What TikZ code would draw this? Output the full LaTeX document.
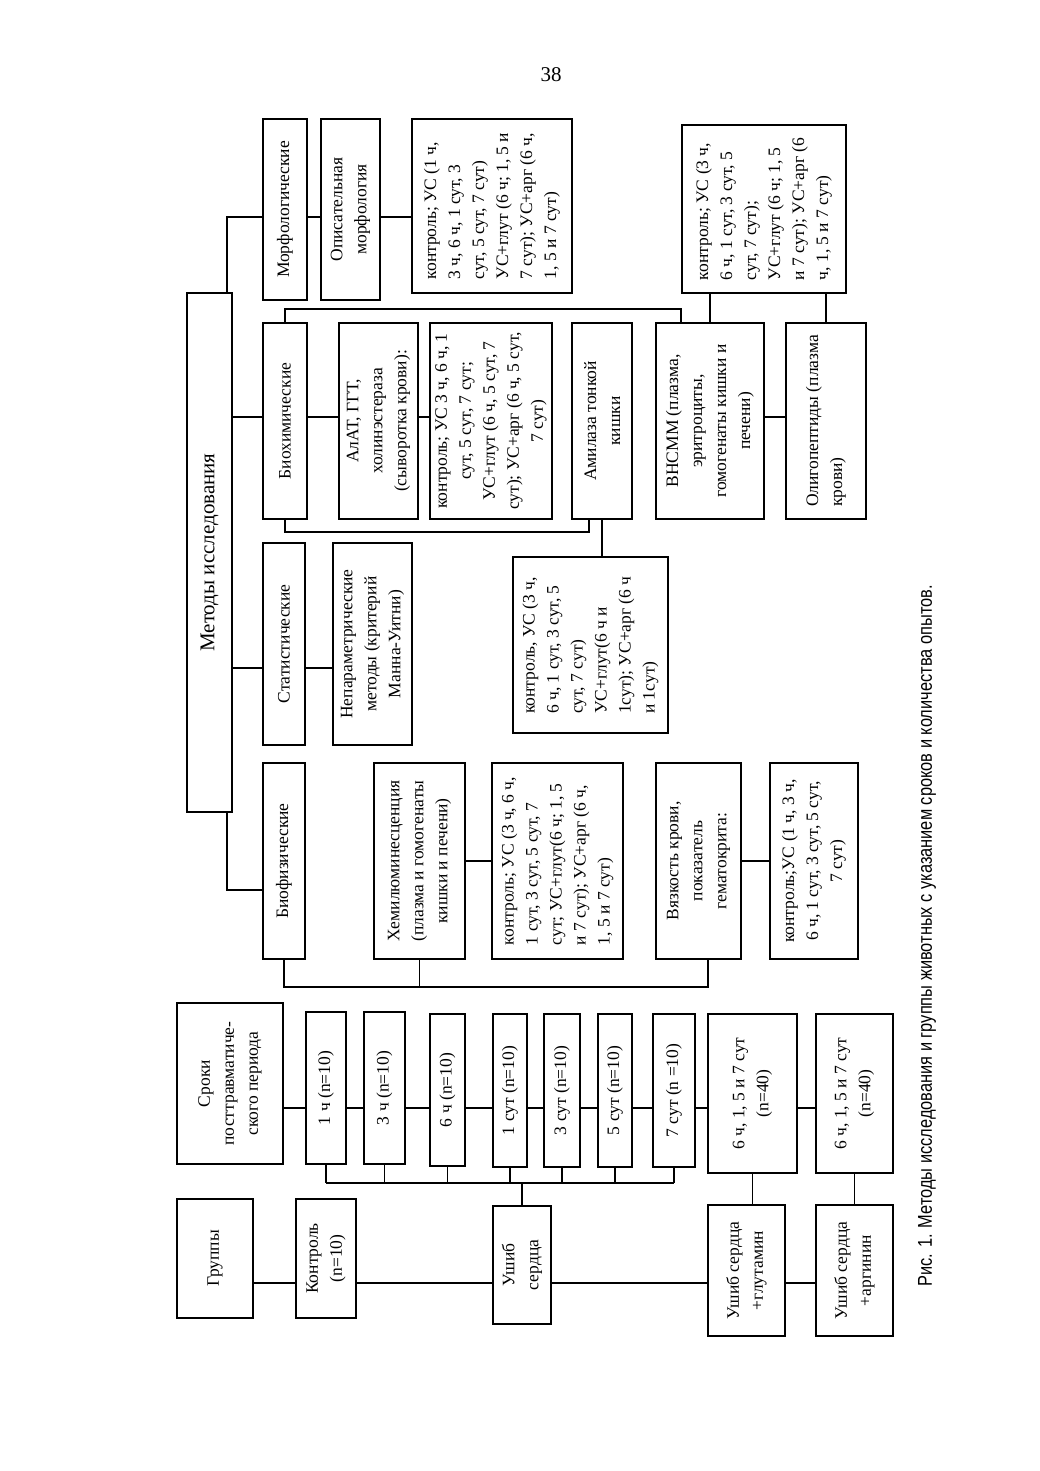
\documentclass[tikz,border=0pt]{standalone}
\usepackage{fontspec}
\setmainfont{Liberation Serif}
\newfontfamily\capfont{Liberation Sans}
\usetikzlibrary{calc}

\begin{document}
\begin{tikzpicture}[x=1pt,y=-1pt,line width=1.5pt,font=\fontsize{17.5}{24}\selectfont,
  box/.style={draw,line width=1.9pt,rotate=90,align=center,inner sep=3pt},
  lbox/.style={box,align=left}]
  \useasboundingbox (0,0) rectangle (1040,1471);
  \node[font=\fontsize{21}{24}\selectfont] (pnum) at (551,75) {38};
  % groups and periods
  \node[box,minimum width=161,minimum height=106] (sroki) at (230,1083.5) {Сроки\\посттравматиче-\\ского периода};
  \node[box,minimum width=152,minimum height=40] (t1) at (326,1088) {1 ч (n=10)};
  \node[box,minimum width=152,minimum height=41] (t3) at (384.5,1088) {3 ч (n=10)};
  \node[box,minimum width=152,minimum height=35] (t6) at (447.5,1090) {6 ч (n=10)};
  \node[box,minimum width=153,minimum height=34] (s1) at (510,1090.5) {1 сут (n=10)};
  \node[box,minimum width=153,minimum height=36] (s3) at (562,1090.5) {3 сут (n=10)};
  \node[box,minimum width=153,minimum height=34] (s5) at (615,1090.5) {5 сут (n=10)};
  \node[box,minimum width=153,minimum height=42] (s7) at (674,1090.5) {7 сут (n =10)};
  \node[box,minimum width=159,minimum height=89] (tg) at (752.5,1093.5) {6 ч, 1, 5 и 7 сут\\(n=40)};
  \node[box,minimum width=159,minimum height=77] (ta) at (854.5,1093.5) {6 ч, 1, 5 и 7 сут\\(n=40)};
  \node[box,minimum width=119,minimum height=76] (gruppy) at (215,1258.5) {Группы};
  \node[box,minimum width=119,minimum height=60] (kontrol) at (326,1258.5) {Контроль\\(n=10)};
  \node[box,minimum width=118,minimum height=58] (ushib) at (522,1265) {Ушиб\\сердца};
  \node[box,minimum width=131,minimum height=77] (ushibg) at (746.5,1270.5) {Ушиб сердца\\+глутамин};
  \node[box,minimum width=131,minimum height=77] (ushiba) at (854.5,1270.5) {Ушиб сердца\\+аргинин};

  \coordinate (ch) at (0,1108);
  \foreach \a/\b in {sroki/t1,t1/t3,t3/t6,t6/s1,s1/s3,s3/s5,s5/s7,s7/tg,tg/ta}
    \draw (\a.south |- ch) -- (\b.north |- ch);
  \coordinate (bus) at (0,1183);
  \foreach \n in {t1,t3,t6,s1,s3,s5,s7}
    \draw (\n.west) -- (\n.west |- bus);
  \draw (t1.west |- bus) -- (s7.west |- bus);
  \draw (ushib.east |- bus) -- (ushib.east);
  \coordinate (gr) at (0,1283);
  \foreach \a/\b in {gruppy/kontrol,kontrol/ushib,ushib/ushibg,ushibg/ushiba}
    \draw (\a.south |- gr) -- (\b.north |- gr);
  \draw (tg.west) -- (tg.west |- ushibg.east);
  \draw (ta.west) -- (ta.west |- ushiba.east);

  % methods
  \node[box,font=\fontsize{21}{24}\selectfont,minimum width=519,minimum height=45] (metody) at (209.5,552.5) {Методы исследования};
  \node[box,minimum width=181,minimum height=44] (morf) at (285,209.5) {Морфологические};
  \node[box,minimum width=196,minimum height=44] (biohim) at (285,421) {Биохимические};
  \node[box,minimum width=202,minimum height=42] (stat) at (284,644) {Статистические};
  \node[box,minimum width=196,minimum height=42] (biofiz) at (284,861) {Биофизические};

  \node[box,minimum width=181,minimum height=59] (opis) at (350.5,209.5) {Описательная\\морфология};
  \node[lbox,minimum width=174,minimum height=160] (morfk) at (492,206) {контроль; УС (1 ч,\\3 ч, 6 ч, 1 сут, 3\\сут, 5 сут, 7 сут)\\УС+глут (6 ч; 1, 5 и\\7 сут); УС+арг (6 ч,\\1, 5 и 7 сут)};

  \node[box,minimum width=196,minimum height=79] (alat) at (378.5,421) {АлАТ, ГГТ,\\холинэстераза\\(сыворотка крови):};
  \node[box,minimum width=196,minimum height=122] (alatk) at (491,421) {контроль; УС 3 ч, 6 ч, 1\\сут, 5 сут, 7 сут;\\УС+глут (6 ч, 5 сут, 7\\сут); УС+арг (6 ч, 5 сут,\\7 сут)};
  \node[box,minimum width=196,minimum height=60] (amil) at (602,421) {Амилаза тонкой\\кишки};
  \node[lbox,minimum width=176,minimum height=155] (amilk) at (590.5,645) {контроль, УС (3 ч,\\6 ч, 1 сут, 3 сут, 5\\сут, 7 сут)\\УС+глут(6 ч и\\1сут); УС+арг (6 ч\\и 1сут)};
  \node[box,minimum width=196,minimum height=108] (vnsmm) at (710,421) {ВНСММ (плазма,\\эритроциты,\\гомогенаты кишки и\\печени)};
  \node[lbox,minimum width=196,minimum height=80] (oligo) at (826,421) {Олигопептиды (плазма\\крови)};
  \node[lbox,minimum width=168,minimum height=164] (vnk) at (764,209) {контроль; УС (3 ч,\\6 ч, 1 сут, 3 сут, 5\\сут, 7 сут);\\УС+глут (6 ч; 1, 5\\и 7 сут); УС+арг (6\\ч, 1, 5 и 7 сут)};

  \node[box,minimum width=202,minimum height=79] (nepar) at (372.5,644) {Непараметрические\\методы (критерий\\Манна-Уитни)};

  \node[box,minimum width=196,minimum height=91] (hemi) at (419.5,861) {Хемилюминесценция\\(плазма и гомогенаты\\кишки и печени)};
  \node[lbox,minimum width=196,minimum height=131] (hemik) at (557.5,861) {контроль; УС (3 ч, 6 ч,\\1 сут, 3 сут, 5 сут, 7\\сут; УС+глут(6 ч; 1, 5\\и 7 сут); УС+арг (6 ч,\\1, 5 и 7 сут)};
  \node[box,minimum width=196,minimum height=85] (vyaz) at (698.5,861) {Вязкость крови,\\показатель\\гематокрита:};
  \node[box,minimum width=196,minimum height=88] (vyazk) at (814,861) {контроль;УС (1 ч, 3 ч,\\6 ч, 1 сут, 3 сут, 5 сут,\\7 сут)};

  \coordinate (mt) at (227,217);
  \draw (metody.east -| mt) -- (mt) -- (morf.north |- mt);
  \draw (morf.south |- mt) -- (opis.north |- mt);
  \draw (opis.south |- mt) -- (morfk.north |- mt);
  \coordinate (bh) at (0,417);
  \foreach \a/\b in {metody/biohim,biohim/alat,alat/alatk,vnsmm/oligo}
    \draw (\a.south |- bh) -- (\b.north |- bh);
  \coordinate (st) at (0,668);
  \foreach \a/\b in {metody/stat,stat/nepar}
    \draw (\a.south |- st) -- (\b.north |- st);
  \coordinate (bf) at (227,890);
  \draw (metody.west -| bf) -- (bf) -- (biofiz.north |- bf);
  \draw (hemi.south) -- (hemik.north);
  \draw (vyaz.south) -- (vyazk.north);
  \coordinate (bb) at (708,987);
  \draw (biofiz.west) |- (bb) -- (bb |- vyaz.west);
  \draw (hemi.west) -- (hemi.west |- bb);
  \coordinate (tb) at (681,309);
  \draw (biohim.east) |- (tb) -- (tb |- vnsmm.east);
  \draw (vnsmm.east) -- (vnsmm.east |- vnk.west);
  \draw (oligo.east) -- (oligo.east |- vnk.west);
  \coordinate (ab) at (589,532);
  \draw (biohim.west) |- (ab) -- (ab |- amil.west);
  \draw (amil.west) -- (amil.west |- amilk.east);

  \node[rotate=90,font=\capfont\fontsize{20}{24}\selectfont] (cap) at (927,936)
    {\scalebox{.82}[1]{Рис. 1. Методы исследования и группы животных с указанием сроков и количества опытов.}};
\end{tikzpicture}
\end{document}
